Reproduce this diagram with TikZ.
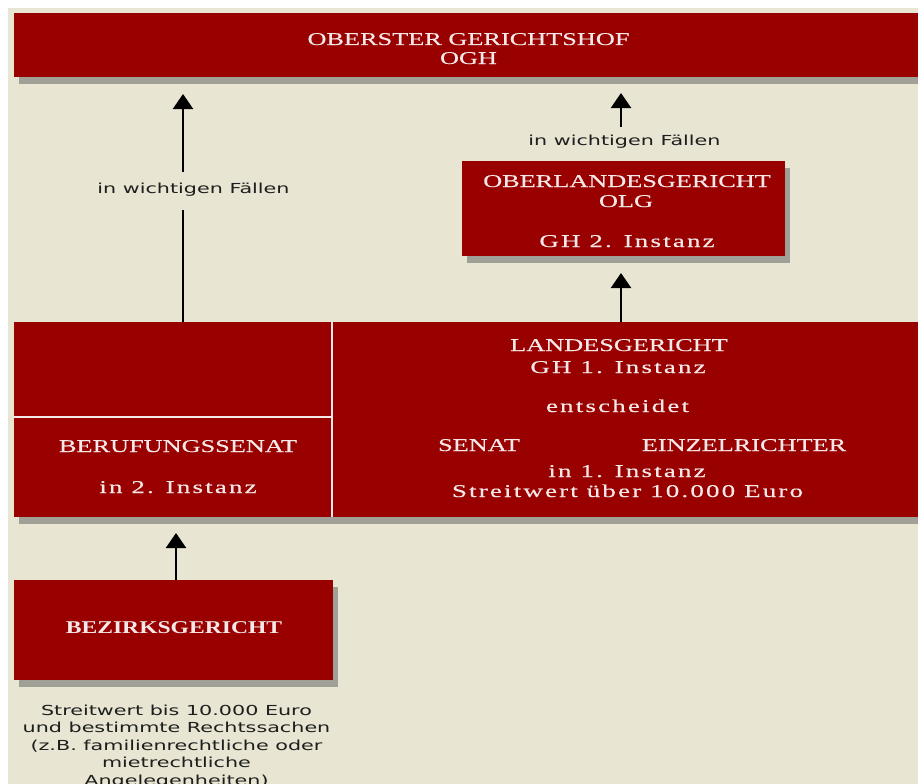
\documentclass[tikz,border=0pt]{standalone}
\usepackage{fontspec}
\setmainfont{Liberation Serif}
\newfontfamily\capsfont[FakeStretch=1.46,FakeBold=0.35]{Liberation Serif}
\newfontfamily\lowfont[FakeStretch=1.5,FakeBold=0.35,LetterSpace=12]{Liberation Serif}
\newfontfamily\bezfont[FakeStretch=1.31]{Liberation Serif}
\newfontfamily\labfont[FakeStretch=1.5]{DejaVu Sans}
\usetikzlibrary{arrows.meta,shadows}
\definecolor{bgbeige}{HTML}{E8E6D3}
\definecolor{courtred}{HTML}{990000}
\definecolor{paletext}{HTML}{F4E8E8}
\definecolor{labelgray}{HTML}{1E1E1E}
\begin{document}
\begin{tikzpicture}[x=1pt,y=-1pt,
 court/.style={fill=courtred, draw=none, inner sep=0pt, outer sep=0pt, anchor=north west,
   drop shadow={shadow xshift=5pt,shadow yshift=-7pt,opacity=0.45,fill=black!70}},
 captxt/.style={text=paletext, font=\capsfont\fontsize{18}{20}\selectfont, anchor=base, inner sep=0pt},
 lowtxt/.style={text=paletext, font=\lowfont\fontsize{18}{20}\selectfont, anchor=base, inner sep=0pt},
 beztxt/.style={text=paletext, font=\bezfont\bfseries\fontsize{18}{20}\selectfont, anchor=base, inner sep=0pt},
 lab/.style={text=labelgray, font=\labfont\fontsize{13.8}{17.5}\selectfont, inner sep=0pt},
 arr/.style={line width=2.2pt, -{Triangle[width=20pt,length=15pt]}},
 stem/.style={line width=2.2pt},
 divider/.style={draw=paletext, line width=1.5pt}]
\useasboundingbox (0,0) rectangle (918,784);
\clip (0,0) rectangle (918,784);
\fill[white] (0,0) rectangle (918,784);
\fill[bgbeige] (8,8) rectangle (918,784);

% boxes
\node[court, minimum width=910pt, minimum height=64pt] (ogh) at (14,13) {};
\node[court, minimum width=323pt, minimum height=95pt] (olg) at (462,161) {};
\node[court, minimum width=318pt, minimum height=95pt] (lgtop) at (14,322) {};
\node[court, minimum width=318pt, minimum height=100pt] (beruf) at (14,417) {};
\node[court, minimum width=590pt, minimum height=195pt] (lg) at (332,322) {};
\node[court, minimum width=319pt, minimum height=100pt] (bg) at (14,580) {};

\draw[divider] (lg.north west) -- (lg.south west);
\draw[divider] (lgtop.south west) -- (lgtop.south east);

% texts in boxes
\node[captxt] (ogh1) at (468.5,45) {OBERSTER GERICHTSHOF};
\node[captxt] (ogh2) at (468.5,64) {OGH};

\node[captxt] (olg1) at (627,187) {OBERLANDESGERICHT};
\node[captxt] (olg2) at (626,207) {OLG};
\node[lowtxt] (olg3) at (627,247) {GH 2. Instanz};

\node[captxt] (lg1) at (619,351) {LANDESGERICHT};
\node[lowtxt] (lg2) at (618,373) {GH 1. Instanz};
\node[lowtxt] (lg3) at (617.5,412) {entscheidet};
\node[captxt] (lg4) at (479,451) {SENAT};
\node[captxt] (lg5) at (744,451) {EINZELRICHTER};
\node[lowtxt] (lg6) at (627,477) {in 1. Instanz};
\node[lowtxt] (lg7) at (627.5,497) {Streitwert über 10.000 Euro};

\node[captxt] (be1) at (178,452) {BERUFUNGSSENAT};
\node[lowtxt] (be2) at (178,493) {in 2. Instanz};

\node[beztxt] (bg1) at (174,633) {BEZIRKSGERICHT};

% labels
\node[lab, anchor=base] (l1) at (193.5,193) {in wichtigen Fällen};
\node[lab, anchor=base] (l2) at (624.5,145) {in wichtigen Fällen};
\node[lab, anchor=north, align=center] (l3) at (176.5,704.5)
  {Streitwert bis 10.000 Euro\\und bestimmte Rechtssachen\\(z.B. familienrechtliche oder\\mietrechtliche\\Angelegenheiten)};

% connectors
\coordinate (la-bot) at (183,322);
\coordinate (la-gap1) at (183,210);
\coordinate (la-gap2) at (183,172);
\coordinate (la-tip) at (183,94);
\draw[stem] (la-bot) -- (la-gap1);
\draw[arr] (la-gap2) -- (la-tip);

\coordinate (ra-start) at (621,127);
\coordinate (ra-tip) at (621,93);
\draw[arr] (ra-start) -- (ra-tip);

\coordinate (ma-start) at (621,322);
\coordinate (ma-tip) at (621,273);
\draw[arr] (ma-start) -- (ma-tip);

\coordinate (ba-start) at (176,580);
\coordinate (ba-tip) at (176,533);
\draw[arr] (ba-start) -- (ba-tip);
\end{tikzpicture}
\end{document}
